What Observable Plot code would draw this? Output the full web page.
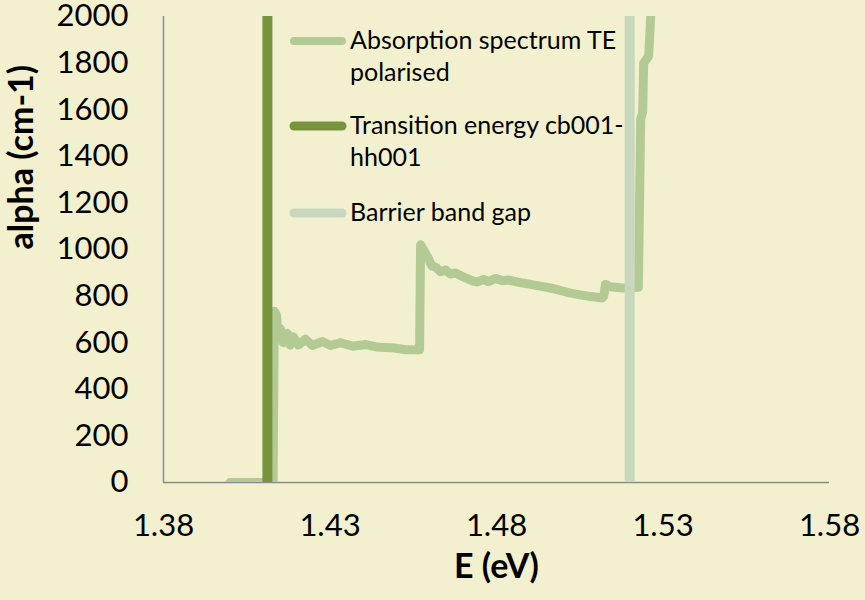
<!DOCTYPE html>
<html>
<head>
<meta charset="utf-8">
<script src="https://cdn.jsdelivr.net/npm/d3@7"></script>
<script src="https://cdn.jsdelivr.net/npm/@observablehq/plot@0.6"></script>
<style>
  html, body { margin: 0; padding: 0; background: #F2F0CF; }
  #wrap { position: relative; width: 865px; height: 600px; background: #F2F0CF; font-family: Lato, "Open Sans", sans-serif; }
  .legend-row { position: absolute; left: 288px; display: flex; align-items: flex-start; }
  .legend-row svg { display: block; flex: none; }
  .legend-text { font-size: 25px; line-height: 32px; color: #000; margin-left: 2px; white-space: nowrap; }
</style>
</head>
<body>
<div id="wrap"></div>
<script>
// ---- data ----
const energy = [
  1.4000, 1.4129, 1.4133, 1.4139, 1.4145, 1.4151, 1.4160, 1.4172, 1.4181, 1.4190,
  1.4205, 1.4226, 1.4247, 1.4277, 1.4302, 1.4332, 1.4368, 1.4407, 1.4446, 1.4488,
  1.4527, 1.4569, 1.4572, 1.4584, 1.4596, 1.4605, 1.4617, 1.4632, 1.4647, 1.4662,
  1.4677, 1.4707, 1.4728, 1.4743, 1.4761, 1.4776, 1.4797, 1.4818, 1.4836, 1.4878,
  1.4911, 1.4962, 1.5022, 1.5082, 1.5118, 1.5122, 1.5127, 1.5142, 1.5181, 1.5226,
  1.5233, 1.5239, 1.5242, 1.5257, 1.5263, 1.5269
];
const alpha = [
  0, 0, 735, 720, 620, 660, 600, 640, 590, 625,
  590, 615, 588, 605, 588, 600, 585, 592, 580, 578,
  570, 570, 1020, 990, 960, 930, 925, 905, 912, 895,
  899, 878, 865, 861, 872, 862, 876, 866, 869, 856,
  848, 835, 813, 798, 792, 800, 850, 840, 835, 838,
  1560, 1590, 1800, 1830, 2000, 2100
];
const transitionEnergy = [1.4112];
const barrierBandGap = [1.5200];
const xTicks = [1.38, 1.43, 1.48, 1.53, 1.58];
const yTicks = [0, 200, 400, 600, 800, 1000, 1200, 1400, 1600, 1800, 2000];
const seriesNames = ["Absorption spectrum TE polarised", "Transition energy cb001-hh001", "Barrier band gap"];
const legendLines = [["Absorption spectrum TE", "polarised"], ["Transition energy cb001-", "hh001"], ["Barrier band gap"]];
const xTitle = "E (eV)";
const yTitle = "alpha (cm-1)";

const colors = ["#B4CA95", "#77933C", "#C9D8BC"];
const widths = [9, 10, 10];

const spectrum = energy.map((e, i) => ({E: e, alpha: alpha[i]}));

const chart = Plot.plot({
  width: 865,
  height: 600,
  marginLeft: 163,
  marginRight: 36,
  marginTop: 16,
  marginBottom: 118,
  style: {background: "#F2F0CF", fontFamily: "Lato, 'Open Sans', sans-serif", fontSize: "31px", color: "#000"},
  x: {domain: [xTicks[0], xTicks[xTicks.length - 1]]},
  y: {domain: [yTicks[0], yTicks[yTicks.length - 1]]},
  marks: [
    Plot.ruleY([yTicks[0]], {stroke: "#8C8C8C", strokeWidth: 1.5}),
    Plot.ruleX([xTicks[0]], {stroke: "#8C8C8C", strokeWidth: 1.5}),
    Plot.line(spectrum, {x: "E", y: "alpha", stroke: colors[0], strokeWidth: widths[0],
      strokeLinejoin: "round", strokeLinecap: "round", clip: true}),
    Plot.ruleX(transitionEnergy, {stroke: colors[1], strokeWidth: widths[1], clip: true}),
    Plot.ruleX(barrierBandGap, {stroke: colors[2], strokeWidth: widths[2], clip: true}),
    Plot.axisX({ticks: xTicks, tickFormat: d3.format(".2f"), tickSize: 0, tickPadding: 31, fontSize: 31, label: null}),
    Plot.axisY({ticks: yTicks, tickFormat: d3.format("d"), tickSize: 0, tickPadding: 35, fontSize: 31, label: null}),
    Plot.text([xTitle], {text: d => d, frameAnchor: "bottom", dy: 95, fontSize: 34, fontWeight: "bold"}),
    Plot.text([yTitle], {text: d => d, frameAnchor: "left", rotate: -90, dx: -141, fontSize: 34, fontWeight: "bold"})
  ]
});

const wrap = document.getElementById("wrap");
wrap.appendChild(chart);

// legend overlay (inside plot area, top)
const rowTops = [23, 108, 195];
legendLines.forEach((lines, i) => {
  const row = document.createElement("div");
  row.className = "legend-row";
  row.style.top = rowTops[i] + "px";
  row.innerHTML =
    `<svg width="60" height="32"><line x1="6" x2="54" y1="18" y2="18" stroke="${colors[i]}" stroke-width="${widths[i] - 1}" stroke-linecap="round"/></svg>` +
    `<div class="legend-text">${lines.join("<br>")}</div>`;
  wrap.appendChild(row);
});
</script>
</body>
</html>
